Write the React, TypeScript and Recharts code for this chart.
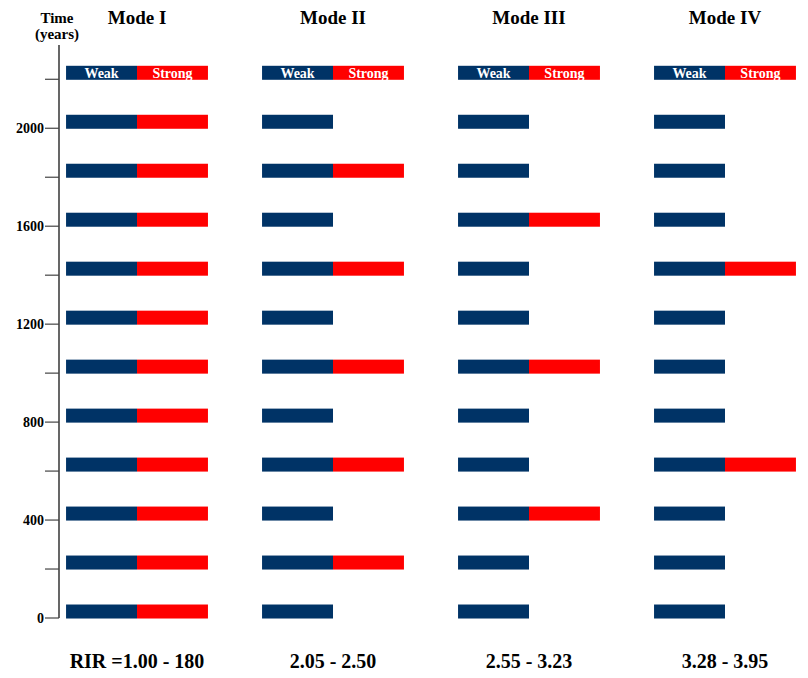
import React from "react";
import {
  ComposedChart,
  Bar,
  XAxis,
  YAxis,
} from "recharts";

// rows of the diagram, in years
const times = [0, 200, 400, 600, 800, 1000, 1200, 1400, 1600, 1800, 2000, 2200];
const yTicks = [0, 200, 400, 600, 800, 1000, 1200, 1400, 1600, 1800, 2000, 2200];

const modes = ["Mode I", "Mode II", "Mode III", "Mode IV"];
const rirRanges = ["RIR =1.00 - 180", "2.05 - 2.50", "2.55 - 3.23", "3.28 - 3.95"];

// 1 = strong event present at that time, per mode
const strongModeI = [1, 1, 1, 1, 1, 1, 1, 1, 1, 1, 1, 1];
const strongModeII = [0, 1, 0, 1, 0, 1, 0, 1, 0, 1, 0, 1];
const strongModeIII = [0, 0, 1, 0, 0, 1, 0, 0, 1, 0, 0, 1];
const strongModeIV = [0, 0, 0, 1, 0, 0, 0, 1, 0, 0, 0, 1];

const strongFlags = [strongModeI, strongModeII, strongModeIII, strongModeIV];

const HEADER_TIME = times[times.length - 1];
const NAVY = "#003366";
const RED = "#ff0000";
const FONT = "'Liberation Serif', 'Times New Roman', serif";
const HALF = 0.362; // half width of a mode block, in mode units
const X_DOMAIN = [-0.398, 3.4235];

const data = times.map((time, row) => {
  const entry: Record<string, any> = { time };
  strongFlags.forEach((flags, m) => {
    entry[`weak${m}`] = [m - HALF, m];
    entry[`strong${m}`] = flags[row] ? [m, m + HALF] : null;
  });
  return entry;
});

const barShape = (label: string) => (p: any) => {
  if (p.height == null || p.width == null) return null;
  const y = p.y - 6;
  return (
    <g>
      <rect x={p.x} y={y} width={p.width} height={p.height} fill={p.fill} />
      {p.payload && p.payload.time === HEADER_TIME && (
        <text
          x={p.x + p.width / 2}
          y={y + p.height / 2}
          dy="0.36em"
          textAnchor="middle"
          fill="#ffffff"
          fontSize={14}
          fontWeight="bold"
          fontFamily={FONT}
        >
          {label}
        </text>
      )}
    </g>
  );
};

const TimeLabel = (props: any) => {
  const vb = props.viewBox || { x: 0, y: 45, width: 59 };
  const cx = vb.x + vb.width - 2;
  const style = { fontSize: 15, fontWeight: "bold" as const, fontFamily: FONT };
  return (
    <g>
      <text x={cx} y={vb.y - 22} textAnchor="middle" fill="#000" style={style}>
        Time
      </text>
      <text x={cx} y={vb.y - 6} textAnchor="middle" fill="#000" style={style}>
        (years)
      </text>
    </g>
  );
};

export default function App() {
  return (
    <div style={{ position: "absolute", left: 0, top: 0, width: 808, height: 678, background: "#fff", fontFamily: FONT }}>
      <ComposedChart
        width={808}
        height={678}
        data={data}
        layout="vertical"
        barSize={14}
        barGap={-14}
        margin={{ top: 0, right: 0, bottom: 0, left: 0 }}
      >
        <XAxis
          xAxisId="top"
          orientation="top"
          type="number"
          domain={X_DOMAIN}
          allowDataOverflow
          ticks={[0, 1, 2, 3]}
          interval={0}
          tickFormatter={(i) => modes[i]}
          height={45}
          axisLine={false}
          tickLine={false}
          tickSize={21}
          tickMargin={0}
          tick={{ fill: "#000", fontSize: 19, fontWeight: "bold", fontFamily: FONT }}
        />
        <XAxis
          xAxisId="bottom"
          orientation="bottom"
          type="number"
          domain={X_DOMAIN}
          ticks={[0, 1, 2, 3]}
          interval={0}
          tickFormatter={(i) => rirRanges[i]}
          height={60}
          axisLine={false}
          tickLine={false}
          tickSize={36}
          tickMargin={0}
          tick={{ fill: "#000", fontSize: 20, fontWeight: "bold", fontFamily: FONT }}
        />
        <YAxis
          type="number"
          dataKey="time"
          domain={[0, 2340]}
          reversed
          ticks={yTicks}
          interval={0}
          width={59}
          tickFormatter={(v) => (v % 400 === 0 ? String(v) : "")}
          axisLine={{ stroke: "#000", strokeWidth: 1.2 }}
          tickLine={{ stroke: "#444", strokeWidth: 1.2 }}
          tickSize={14}
          tickMargin={1}
          tick={{ fill: "#000", fontSize: 14, fontWeight: "bold", fontFamily: FONT }}
          label={<TimeLabel />}
        />
        {modes.map((_, m) => (
          <Bar
            key={`weak${m}`}
            xAxisId="bottom"
            dataKey={`weak${m}`}
            fill={NAVY}
            shape={barShape("Weak")}
            isAnimationActive={false}
          />
        ))}
        {modes.map((_, m) => (
          <Bar
            key={`strong${m}`}
            xAxisId="bottom"
            dataKey={`strong${m}`}
            fill={RED}
            shape={barShape("Strong")}
            isAnimationActive={false}
          />
        ))}
      </ComposedChart>
    </div>
  );
}
